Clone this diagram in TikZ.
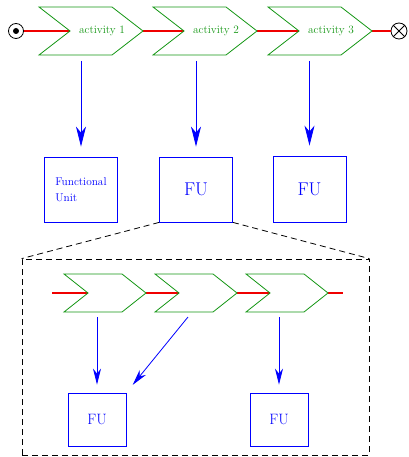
\documentclass[tikz,border=0pt]{standalone}
\usetikzlibrary{arrows.meta}
\definecolor{actgreen}{RGB}{20,150,20}
\definecolor{linkred}{RGB}{240,0,0}
\tikzset{
  chevline/.style={draw=actgreen, line width=0.8pt},
  redlink/.style={draw=linkred, line width=1.2pt},
  acttext/.style={text=actgreen, font=\fontsize{11.3}{13}\selectfont, inner sep=0pt},
  fubox/.style={draw=blue, line width=0.8pt, text=blue, inner sep=0pt},
  bigflow/.style={draw=blue, line width=0.8pt, -{Stealth[length=20pt,width=10pt,inset=6pt]}},
  smallflow/.style={draw=blue, line width=0.8pt, -{Stealth[length=16pt,width=8pt,inset=5pt]}},
  zoomline/.style={draw=black, line width=0.8pt, dash pattern=on 6pt off 4pt},
}
% points of an activity chevron: #1 name, #2 left x, #3 middle y, #4 point depth, #5 total width
\newcommand{\chevpoints}[5]{%
  \coordinate (#1-in) at (#2+#4,#3);
  \coordinate (#1-out) at (#2+#5,#3);
}
% outline of an activity chevron: #1 left x, #2 middle y, #3 half height, #4 point depth, #5 total width
\newcommand{\chevoutline}[5]{%
  \draw[chevline] (#1,#2-#3) -- (#1+#4,#2) -- (#1,#2+#3) -- (#1+#5-#4,#2+#3)
    -- (#1+#5,#2) -- (#1+#5-#4,#2-#3) -- cycle;
}
\begin{document}
\begin{tikzpicture}[x=1pt,y=-1pt]
\useasboundingbox (0,0) rectangle (408,457);

% anchor points of all chevrons
\chevpoints{c1}{39}{31}{31}{104}
\chevpoints{c2}{153}{31}{31}{104}
\chevpoints{c3}{268}{31}{31}{104}
\chevpoints{d1}{64}{293}{24}{82}
\chevpoints{d2}{155}{293}{24}{82}
\chevpoints{d3}{246}{293}{24}{82}
\coordinate (din) at (52,293);
\coordinate (dout) at (343,293);

% start and end markers
\node[circle, draw, line width=0.8pt, minimum size=15pt, inner sep=0pt] (start) at (16,31) {};
\node[circle, draw, line width=0.8pt, minimum size=16pt, inner sep=0pt] (stop) at (399,31) {};

% control flow links
\draw[redlink] (start.east) -- (c1-in);
\draw[redlink] (c1-out) -- (c2-in);
\draw[redlink] (c2-out) -- (c3-in);
\draw[redlink] (c3-out) -- (stop.west);
\draw[redlink] (din) -- (d1-in);
\draw[redlink] (d1-out) -- (d2-in);
\draw[redlink] (d2-out) -- (d3-in);
\draw[redlink] (d3-out) -- (dout);

\fill (start.center) circle (3pt);
\draw[line width=0.8pt] (stop.45) -- (stop.225);
\draw[line width=0.8pt] (stop.135) -- (stop.315);

% activities
\chevoutline{39}{31}{24}{31}{104}
\chevoutline{153}{31}{24}{31}{104}
\chevoutline{268}{31}{24}{31}{104}
\chevoutline{64}{293}{19}{24}{82}
\chevoutline{155}{293}{19}{24}{82}
\chevoutline{246}{293}{19}{24}{82}

\node[acttext] (a1) at (39+63,31) {activity 1};
\node[acttext] (a2) at (153+63,31) {activity 2};
\node[acttext] (a3) at (268+63,31) {activity 3};

% functional units of the top process
\node[fubox, minimum width=73pt, minimum height=65pt, align=left,
      font=\fontsize{11.3}{16}\selectfont] (fu1) at (81,189.5) {Functional\\Unit};
\node[fubox, minimum width=73pt, minimum height=65pt,
      font=\fontsize{18.5}{20}\selectfont] (fu2) at (196,189.5) {FU};
\node[fubox, minimum width=73pt, minimum height=66pt,
      font=\fontsize{18.5}{20}\selectfont] (fu3) at (309.5,189) {FU};

\coordinate (c1-foot) at (81,61);
\coordinate (c2-foot) at (196,61);
\coordinate (c3-foot) at (309.5,61);
\draw[bigflow, shorten >=10pt] (c1-foot) -- (fu1.north);
\draw[bigflow, shorten >=10pt] (c2-foot) -- (fu2.north);
\draw[bigflow, shorten >=10pt] (c3-foot) -- (fu3.north);

% refinement of the middle unit
\node[zoomline, minimum width=347pt, minimum height=196pt, inner sep=0pt] (zoom) at (195.5,357) {};
\draw[zoomline] (fu2.south west) -- (zoom.north west);
\draw[zoomline] (fu2.south east) -- (zoom.north east);

\node[fubox, minimum width=58pt, minimum height=53pt,
      font=\fontsize{15}{17}\selectfont] (fu4) at (97,419.5) {FU};
\node[fubox, minimum width=58pt, minimum height=53pt,
      font=\fontsize{15}{17}\selectfont] (fu5) at (279,419.5) {FU};

\coordinate (d1-foot) at (97,317);
\coordinate (d2-foot) at (188,317);
\coordinate (d3-foot) at (279,317);
\draw[smallflow, shorten >=8pt] (d1-foot) -- (fu4.north);
\draw[smallflow, shorten >=10pt] (d2-foot) -- (fu4.north east);
\draw[smallflow, shorten >=8pt] (d3-foot) -- (fu5.north);
\end{tikzpicture}
\end{document}
